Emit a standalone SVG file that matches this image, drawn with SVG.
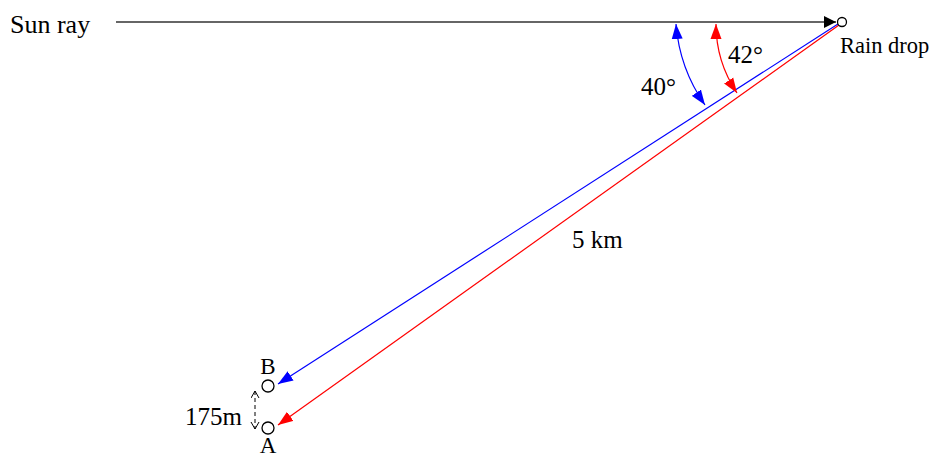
<svg xmlns="http://www.w3.org/2000/svg" width="933" height="457" viewBox="0 0 933 457">
<style>
text{font-family:"Liberation Serif","Times New Roman","DejaVu Serif",serif;fill:#000}
.c{fill:#fff;stroke:#000;stroke-width:1.3}
</style>
<defs>
<marker id="ak" markerUnits="userSpaceOnUse" markerWidth="14" markerHeight="12" refX="12" refY="6" orient="auto"><path d="M0,0 L12,6 L0,12 Z" fill="#000"/></marker>
<marker id="ab" markerUnits="userSpaceOnUse" markerWidth="16" markerHeight="12" refX="15" refY="6" orient="auto-start-reverse"><path d="M0,0.5 L15,6 L0,11.5 Z" fill="#0000ff"/></marker>
<marker id="ar" markerUnits="userSpaceOnUse" markerWidth="16" markerHeight="12" refX="15" refY="6" orient="auto-start-reverse"><path d="M0,0.5 L15,6 L0,11.5 Z" fill="#ff0000"/></marker>
<marker id="ad" markerUnits="userSpaceOnUse" markerWidth="10" markerHeight="10" refX="7" refY="4.5" orient="auto-start-reverse"><path d="M0,0.5 L7,4.5 L0,8.5" fill="none" stroke="#000" stroke-width="1"/></marker>
</defs>
<g id="connectors">
<line x1="116" y1="22" x2="836" y2="22" stroke="#333" stroke-width="1.3" marker-end="url(#ak)"/>
<line x1="838" y1="24" x2="278" y2="384" stroke="#0000ff" stroke-width="1.2" marker-end="url(#ab)"/>
<line x1="839" y1="25" x2="278" y2="425" stroke="#ff0000" stroke-width="1.2" marker-end="url(#ar)"/>
<path d="M676,24 A164,164 0 0 0 705,105" fill="none" stroke="#0000ff" stroke-width="1.2" marker-start="url(#ab)" marker-end="url(#ab)"/>
<path d="M716,24 A124,124 0 0 0 737,93" fill="none" stroke="#ff0000" stroke-width="1.2" marker-start="url(#ar)" marker-end="url(#ar)"/>
<line x1="255" y1="391" x2="255" y2="429" stroke="#000" stroke-width="1" stroke-dasharray="4,3" marker-start="url(#ad)" marker-end="url(#ad)"/>
</g>
<g id="sun-ray"><text x="10" y="33" font-size="26">Sun ray</text></g>
<g id="rain-drop"><circle class="c" cx="842" cy="22" r="4.5"/><text x="840" y="53" font-size="22.5">Rain drop</text></g>
<g id="point-b"><circle class="c" cx="268" cy="386" r="6"/><text x="268" y="374" font-size="23" text-anchor="middle">B</text></g>
<g id="point-a"><circle class="c" cx="268" cy="428" r="6"/><text x="268" y="453" font-size="23" text-anchor="middle">A</text></g>
<g id="labels">
<text x="641" y="95" font-size="25">40°</text>
<text x="728" y="63" font-size="25">42°</text>
<text x="572" y="248" font-size="25">5 km</text>
<text x="185" y="425" font-size="25">175m</text>
</g>
</svg>
